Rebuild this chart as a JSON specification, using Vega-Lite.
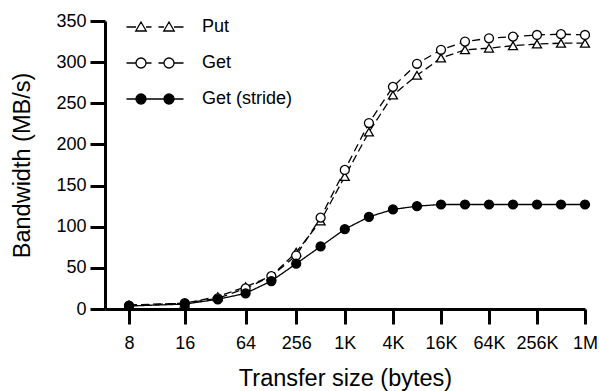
{
  "$schema": "https://vega.github.io/schema/vega-lite/v6.json",
  "width": 480,
  "height": 288,
  "autosize": {"type": "none"},
  "padding": {"left": 105, "top": 21, "right": 14, "bottom": 82},
  "config": {
    "view": {"stroke": null},
    "font": "Liberation Sans",
    "axis": {
      "grid": false,
      "domainColor": "black",
      "domainWidth": 3,
      "tickColor": "black",
      "tickWidth": 3,
      "tickSize": 15,
      "labelColor": "black",
      "labelFont": "Liberation Sans",
      "labelFontSize": 18,
      "titleFont": "Liberation Sans",
      "titleFontSize": 23.5,
      "titleFontWeight": "normal",
      "titleColor": "black"
    },
    "legend": {
      "orient": "none",
      "legendX": 41,
      "legendY": -3,
      "padding": 0,
      "labelFontSize": 18,
      "labelColor": "black",
      "labelFont": "Liberation Sans",
      "labelOffset": 38,
      "rowPadding": 18,
      "symbolSize": 100,
      "symbolStrokeColor": "black",
      "symbolStrokeWidth": 1.3,
      "symbolOpacity": 1
    }
  },
  "data": {
    "values": [
      {"series": "Put", "size_adj": 2, "mbps": 5},
      {"series": "Put", "size_adj": 10, "mbps": 7},
      {"series": "Put", "size_adj": 26, "mbps": 15},
      {"series": "Put", "size_adj": 58, "mbps": 27},
      {"series": "Put", "size_adj": 122, "mbps": 40},
      {"series": "Put", "size_adj": 250, "mbps": 69},
      {"series": "Put", "size_adj": 506, "mbps": 107},
      {"series": "Put", "size_adj": 1018, "mbps": 161},
      {"series": "Put", "size_adj": 2042, "mbps": 215},
      {"series": "Put", "size_adj": 4090, "mbps": 260},
      {"series": "Put", "size_adj": 8186, "mbps": 284},
      {"series": "Put", "size_adj": 16378, "mbps": 305},
      {"series": "Put", "size_adj": 32762, "mbps": 315},
      {"series": "Put", "size_adj": 65530, "mbps": 317},
      {"series": "Put", "size_adj": 131066, "mbps": 320},
      {"series": "Put", "size_adj": 262138, "mbps": 322},
      {"series": "Put", "size_adj": 524282, "mbps": 323},
      {"series": "Put", "size_adj": 1048570, "mbps": 323},
      {"series": "Get", "size_adj": 2, "mbps": 4},
      {"series": "Get", "size_adj": 10, "mbps": 7},
      {"series": "Get", "size_adj": 26, "mbps": 13},
      {"series": "Get", "size_adj": 58, "mbps": 25},
      {"series": "Get", "size_adj": 122, "mbps": 40},
      {"series": "Get", "size_adj": 250, "mbps": 65},
      {"series": "Get", "size_adj": 506, "mbps": 111},
      {"series": "Get", "size_adj": 1018, "mbps": 169},
      {"series": "Get", "size_adj": 2042, "mbps": 226},
      {"series": "Get", "size_adj": 4090, "mbps": 270},
      {"series": "Get", "size_adj": 8186, "mbps": 298},
      {"series": "Get", "size_adj": 16378, "mbps": 315},
      {"series": "Get", "size_adj": 32762, "mbps": 325},
      {"series": "Get", "size_adj": 65530, "mbps": 329},
      {"series": "Get", "size_adj": 131066, "mbps": 331},
      {"series": "Get", "size_adj": 262138, "mbps": 333},
      {"series": "Get", "size_adj": 524282, "mbps": 334},
      {"series": "Get", "size_adj": 1048570, "mbps": 333},
      {"series": "Get (stride)", "size_adj": 2, "mbps": 3.6},
      {"series": "Get (stride)", "size_adj": 10, "mbps": 6},
      {"series": "Get (stride)", "size_adj": 26, "mbps": 11.8},
      {"series": "Get (stride)", "size_adj": 58, "mbps": 19},
      {"series": "Get (stride)", "size_adj": 122, "mbps": 34},
      {"series": "Get (stride)", "size_adj": 250, "mbps": 55},
      {"series": "Get (stride)", "size_adj": 506, "mbps": 76},
      {"series": "Get (stride)", "size_adj": 1018, "mbps": 97},
      {"series": "Get (stride)", "size_adj": 2042, "mbps": 112},
      {"series": "Get (stride)", "size_adj": 4090, "mbps": 121},
      {"series": "Get (stride)", "size_adj": 8186, "mbps": 125},
      {"series": "Get (stride)", "size_adj": 16378, "mbps": 127},
      {"series": "Get (stride)", "size_adj": 32762, "mbps": 127},
      {"series": "Get (stride)", "size_adj": 65530, "mbps": 127},
      {"series": "Get (stride)", "size_adj": 131066, "mbps": 127},
      {"series": "Get (stride)", "size_adj": 262138, "mbps": 127},
      {"series": "Get (stride)", "size_adj": 524282, "mbps": 127},
      {"series": "Get (stride)", "size_adj": 1048570, "mbps": 127}
    ]
  },
  "encoding": {
    "x": {
      "field": "size_adj",
      "type": "quantitative",
      "scale": {"type": "log", "base": 2, "domain": [1, 1048570], "nice": false},
      "axis": {
        "title": "Transfer size (bytes)",
        "values": [2, 10, 58, 250, 1018, 4090, 16378, 65530, 262138, 1048570],
        "labelExpr": "datum.value + 6 >= 1048576 ? '1M' : (datum.value + 6 >= 1024 ? ((datum.value + 6) / 1024) + 'K' : '' + (datum.value + 6))",
        "labelPadding": 10,
        "titlePadding": 14,
        "labelFlush": false,
        "labelOverlap": false
      }
    },
    "y": {
      "field": "mbps",
      "type": "quantitative",
      "scale": {"domain": [0, 350], "nice": false},
      "axis": {
        "title": "Bandwidth (MB/s)",
        "values": [0, 50, 100, 150, 200, 250, 300, 350],
        "labelPadding": 4,
        "titlePadding": 21
      }
    }
  },
  "layer": [
    {
      "mark": {"type": "line", "color": "black", "strokeWidth": 1.3},
      "encoding": {
        "detail": {"field": "series", "type": "nominal"},
        "strokeDash": {
          "condition": [
            {"test": "datum.series === 'Put'", "value": [8, 4]},
            {"test": "datum.series === 'Get'", "value": [8, 5]}
          ],
          "value": [1, 0]
        }
      }
    },
    {
      "mark": {"type": "point", "filled": true, "stroke": "black", "strokeWidth": 1.3, "opacity": 1, "size": 80},
      "encoding": {
        "shape": {
          "condition": {"test": "datum.series === 'Put'", "value": "triangle-up"},
          "value": "circle"
        },
        "fill": {
          "field": "series",
          "type": "nominal",
          "scale": {"domain": ["Put", "Get", "Get (stride)"], "range": ["white", "white", "black"]},
          "legend": {
            "title": null,
            "symbolType": {"expr": "datum.value === 'Put' ? 'M-5.7,0H-3.8M-1.8,0H-0.7M0.7,0H1.8M3.8,0H5.7M-2.8,-1L-1.75,0.8L-3.85,0.8ZM2.8,-1L3.85,0.8L1.75,0.8Z' : (datum.value === 'Get' ? 'M-5.7,0H-3.8M-1.8,0H-0.7M0.7,0H1.8M3.8,0H5.7M-3.8,0A1,1 0 1,0 -1.8,0A1,1 0 1,0 -3.8,0ZM1.8,0A1,1 0 1,0 3.8,0A1,1 0 1,0 1.8,0Z' : 'M-5.7,0H5.7M-3.8,0A1,1 0 1,0 -1.8,0A1,1 0 1,0 -3.8,0ZM1.8,0A1,1 0 1,0 3.8,0A1,1 0 1,0 1.8,0Z')"}
          }
        }
      }
    }
  ]
}
